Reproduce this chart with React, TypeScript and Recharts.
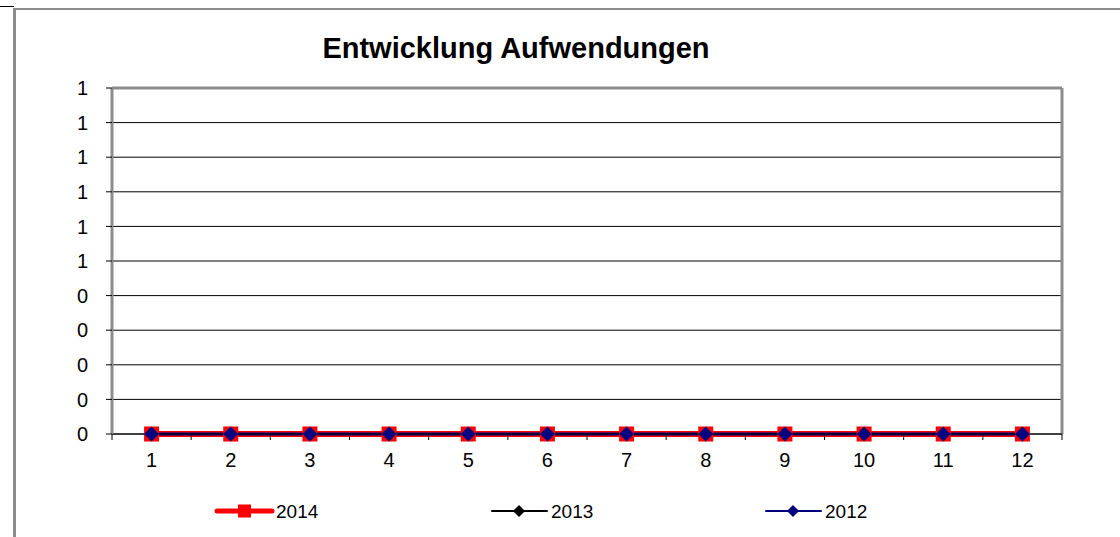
import { LineChart, Line, XAxis, YAxis, CartesianGrid, ReferenceLine } from "recharts";

const months = [1, 2, 3, 4, 5, 6, 7, 8, 9, 10, 11, 12];
const values2014 = [0, 0, 0, 0, 0, 0, 0, 0, 0, 0, 0, 0];
const values2013 = [0, 0, 0, 0, 0, 0, 0, 0, 0, 0, 0, 0];
const values2012 = [0, 0, 0, 0, 0, 0, 0, 0, 0, 0, 0, 0];
const yTicks = [0, 0.1, 0.2, 0.3, 0.4, 0.5, 0.6, 0.7, 0.8, 0.9, 1];

const data = months.map((m, i) => ({
  month: m,
  y2014: values2014[i],
  y2013: values2013[i],
  y2012: values2012[i],
}));

// band edges between the month categories (Excel draws the x ticks there)
const edges = [...months.map((m) => m - 0.5), months[months.length - 1] + 0.5];
const xTicks = [...edges, ...months].sort((a, b) => a - b);

const FONT = "'Liberation Sans', Arial, sans-serif";
const GRAY = "#8c8c8c";
const TICK_SIZE = 6;
const TICK_MARGIN = 20;

const XTick = (props: any) => {
  const { x, y, payload } = props;
  const v = payload.value;
  if (Number.isInteger(v)) {
    return (
      <text x={x} y={y} dy="0.35em" textAnchor="middle" fill="#000" fontSize={20} fontFamily={FONT}>
        {v}
      </text>
    );
  }
  const axisY = y - TICK_SIZE - TICK_MARGIN;
  return <line x1={x} x2={x} y1={axisY} y2={axisY + TICK_SIZE} stroke="#000" strokeWidth={1} />;
};

const Square = (size: number, color: string) => (props: any) => {
  const { cx, cy, index } = props;
  return <rect key={`sq-${index}`} x={cx - size / 2} y={cy - size / 2} width={size} height={size} fill={color} />;
};

const Diamond = (r: number, color: string) => (props: any) => {
  const { cx, cy, index } = props;
  return (
    <path
      key={`dm-${index}`}
      d={`M${cx},${cy - r}L${cx + r},${cy}L${cx},${cy + r}L${cx - r},${cy}Z`}
      fill={color}
    />
  );
};

const legendItems = [
  { name: "2014", color: "#ff0000", width: 5, marker: "square", x: 217 },
  { name: "2013", color: "#000000", width: 2, marker: "diamond", x: 492 },
  { name: "2012", color: "#000080", width: 2, marker: "diamond", x: 766 },
];

export default function App() {
  return (
    <div style={{ position: "absolute", left: 0, top: 0, width: 1120, height: 537, background: "#fff", overflow: "hidden" }}>
      {/* outer chart frame */}
      <div style={{ position: "absolute", left: 0, top: 6, width: 14, height: 1, background: "#000" }} />
      <div style={{ position: "absolute", left: 13, top: 8, width: 1107, height: 2, background: GRAY }} />
      <div style={{ position: "absolute", left: 13, top: 8, width: 3, height: 529, background: GRAY }} />

      <div
        style={{
          position: "absolute",
          left: 0,
          top: 31,
          width: 1032,
          textAlign: "center",
          fontFamily: FONT,
          fontWeight: 700,
          fontSize: 29,
          lineHeight: "34px",
          color: "#000",
        }}
      >
        Entwicklung Aufwendungen
      </div>

      <div style={{ position: "absolute", left: 0, top: 0 }}>
        <LineChart width={1120} height={537} data={data} margin={{ top: 88, right: 58, bottom: 63, left: 52 }}>
          <CartesianGrid vertical={false} stroke="#000" strokeWidth={1} />
          <XAxis
            dataKey="month"
            type="number"
            domain={[0.5, 12.5]}
            ticks={xTicks}
            interval={0}
            height={40}
            tickLine={false}
            tickSize={TICK_SIZE}
            tickMargin={TICK_MARGIN}
            axisLine={{ stroke: "#000", strokeWidth: 1 }}
            tick={<XTick />}
          />
          <YAxis
            domain={[0, 1]}
            ticks={yTicks}
            interval={0}
            width={60}
            tickSize={6}
            tickMargin={18}
            tickLine={{ stroke: "#000" }}
            axisLine={{ stroke: GRAY, strokeWidth: 3 }}
            tickFormatter={(v: number) => String(Math.round(v))}
            tick={{ fill: "#000", fontSize: 20, fontFamily: FONT }}
          />
          <ReferenceLine y={1} stroke={GRAY} strokeWidth={3} />
          <ReferenceLine x={12.5} stroke={GRAY} strokeWidth={3} />
          <Line
            dataKey="y2014"
            stroke="#ff0000"
            strokeWidth={6}
            dot={Square(15, "#ff0000")}
            isAnimationActive={false}
          />
          <Line
            dataKey="y2013"
            stroke="#000000"
            strokeWidth={2}
            dot={Diamond(6, "#000000")}
            isAnimationActive={false}
          />
          <Line
            dataKey="y2012"
            stroke="#000080"
            strokeWidth={3}
            dot={Diamond(7.5, "#000080")}
            isAnimationActive={false}
          />
        </LineChart>
      </div>

      <svg style={{ position: "absolute", left: 0, top: 495 }} width={1120} height={40}>
        {legendItems.map((it) => (
          <g key={it.name}>
            <line x1={it.x} x2={it.x + 55} y1={16} y2={16} stroke={it.color} strokeWidth={it.width} strokeLinecap="round" />
            {it.marker === "square" ? (
              <rect x={it.x + 21} y={9.5} width={13} height={13} fill={it.color} />
            ) : (
              <path d={`M${it.x + 27},${10}L${it.x + 33},${16}L${it.x + 27},${22}L${it.x + 21},${16}Z`} fill={it.color} />
            )}
            <text x={it.x + 59} y={16} dy="0.35em" fontSize={19} fontFamily={FONT} fill="#000">
              {it.name}
            </text>
          </g>
        ))}
      </svg>
    </div>
  );
}
